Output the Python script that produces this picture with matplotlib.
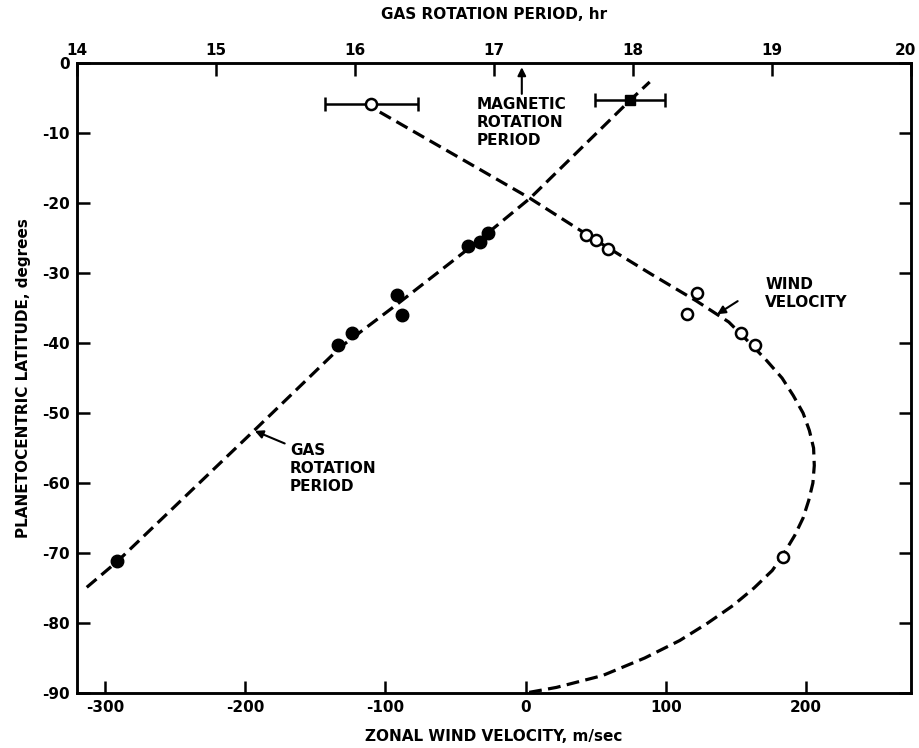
import matplotlib
matplotlib.use("Agg")
import matplotlib.pyplot as plt
from matplotlib.transforms import ScaledTranslation

plt.rcParams['font.family'] = ['DejaVu Sans']
plt.rcParams['font.weight'] = 'bold'
plt.rcParams['axes.unicode_minus'] = False

# wind velocity points (open circles), m/sec vs latitude
wind_vel = [43, 50, 59, 122, 115, 154, 164, 184]
wind_lat = [-24.6, -25.3, -26.5, -32.9, -35.8, -38.6, -40.3, -70.5]
# equatorial point with error bar
eq_vel = -110
eq_lat = -5.8
eq_err = 33

# gas rotation period points (filled), hr vs latitude
gas_per = [14.29, 15.88, 15.98, 16.30, 16.34, 16.81, 16.90, 16.96]
gas_lat = [-71.2, -40.3, -38.5, -33.1, -36.0, -26.2, -25.5, -24.3]
eqg_per = 17.98
eqg_lat = -5.3
eqg_err = 0.25

# fitted curves
curve_vel = [-104, -50, 3, 50, 90, 122, 145, 160, 172, 183, 191, 198, 202.5, 205.5, 206,
             205, 202, 198, 192, 183, 176, 163, 148, 130, 110, 85, 55, 22, 0]
curve_lat = [-7, -13.2, -19.3, -25.3, -30.2, -34, -37, -40, -42.5, -45, -47.5, -50, -52.5, -55, -57.5,
             -60, -62.5, -65, -67.5, -70.5, -72.5, -75, -77.5, -80, -82.5, -85, -87.5, -89.2, -90]
line_per = [14.07, 14.29, 15.29, 15.9, 16.3, 16.85, 17.26, 17.98, 18.12]
line_lat = [-74.9, -71.2, -52.2, -40.5, -34.5, -26.0, -19.3, -5.3, -2.7]

magnetic_period = 17.2

fig = plt.figure(figsize=(9.19, 7.48), dpi=100)
ax = fig.add_axes([0.0838, 0.0735, 0.9075, 0.8422])
ax.set_xlim(-320, 275)
ax.set_ylim(-90, 0)
ax2 = ax.twiny()
ax2.set_xlim(14, 20)

dash = dict(color='black', lw=2.3, dashes=(4, 2))
ax.plot(curve_vel, curve_lat, **dash)
ax2.plot(line_per, line_lat, **dash)

ax.plot(wind_vel, wind_lat, 'o', ms=8, mfc='white', mec='black', mew=1.8)
ax.errorbar([eq_vel], [eq_lat], xerr=[eq_err], fmt='o', ms=8, mfc='white',
            mec='black', mew=1.8, ecolor='black', elinewidth=1.8, capsize=5, capthick=1.8)
ax2.plot(gas_per, gas_lat, 'o', ms=9, color='black')
ax2.errorbar([eqg_per], [eqg_lat], xerr=[eqg_err], fmt='s', ms=7, color='black',
             elinewidth=1.8, capsize=5, capthick=1.8)

# annotations
ax.text(-168, -54.3, 'GAS\nROTATION\nPERIOD', fontsize=11, ha='left', va='top', linespacing=1.25)
ax.annotate('', xy=(-195, -52.4), xytext=(-170, -54.5),
            arrowprops=dict(arrowstyle='-|>', lw=1.5, color='black', mutation_scale=12))
ax.text(-35, -4.9, 'MAGNETIC\nROTATION\nPERIOD', fontsize=11, ha='left', va='top', linespacing=1.25)
ax2.annotate('', xy=(magnetic_period, -0.2), xytext=(magnetic_period, -4.8),
             arrowprops=dict(arrowstyle='-|>', lw=1.5, color='black', mutation_scale=12))
ax.text(171, -30.5, 'WIND\nVELOCITY', fontsize=11, ha='left', va='top', linespacing=1.25)
ax.annotate('', xy=(135, -36.1), xytext=(153, -33.8),
            arrowprops=dict(arrowstyle='-|>', lw=1.5, color='black', mutation_scale=12))

# axes styling
for a in (ax, ax2):
    for s in a.spines.values():
        s.set_linewidth(1.8)
ax.set_xticks([-300, -200, -100, 0, 100, 200])
ax.set_yticks(range(-90, 1, 10))
ax.tick_params(axis='both', direction='in', length=9, width=1.8, labelsize=11, pad=5)
ax.tick_params(axis='y', right=True)
ax2.set_xticks(range(14, 21))
ax2.tick_params(axis='x', direction='in', length=9, width=1.8, labelsize=11, pad=4)
last = ax2.get_xticklabels()[-1]
last.set_transform(last.get_transform() + ScaledTranslation(-4 / 72, 0, fig.dpi_scale_trans))

ax.set_xlabel('ZONAL WIND VELOCITY, m/sec', fontsize=11, fontweight='bold', labelpad=10)
ax.set_ylabel('PLANETOCENTRIC LATITUDE, degrees', fontsize=11, fontweight='bold', labelpad=8)
ax2.set_xlabel('GAS ROTATION PERIOD, hr', fontsize=11, fontweight='bold', labelpad=17)

plt.savefig('out.png', dpi=100)
